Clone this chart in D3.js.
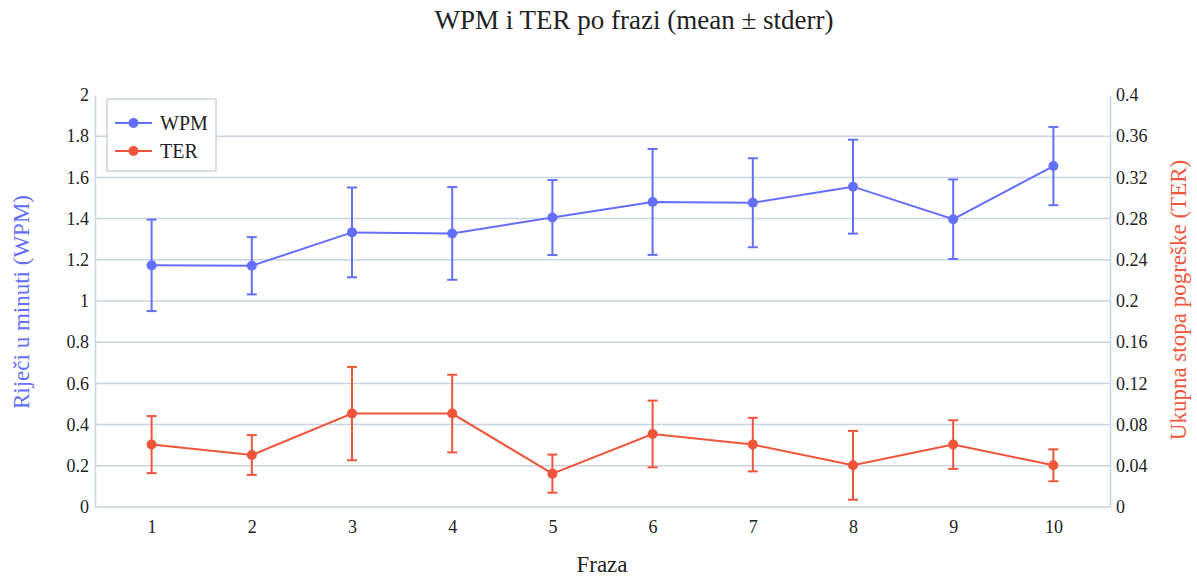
<!DOCTYPE html>
<html><head><meta charset="utf-8">
<script src="https://cdn.jsdelivr.net/npm/d3@7"></script>
<style>body{margin:0;background:#fff;} svg{display:block;font-family:"Liberation Serif","Times New Roman",serif;}</style>
</head><body>
<svg id="c" width="1197" height="577"></svg>
<script>
const categories = ["1","2","3","4","5","6","7","8","9","10"];
const wpmMean = [1.173, 1.171, 1.333, 1.328, 1.405, 1.481, 1.477, 1.555, 1.397, 1.655];
const wpmErr  = [0.222, 0.139, 0.218, 0.225, 0.182, 0.257, 0.216, 0.228, 0.193, 0.19];
const terMean = [0.0606, 0.0505, 0.0907, 0.0907, 0.0324, 0.0709, 0.0606, 0.0405, 0.0606, 0.0405];
const terErr  = [0.0277, 0.0193, 0.0453, 0.0377, 0.0185, 0.0324, 0.026, 0.0334, 0.0236, 0.0155];
const leftTicks = [0,0.2,0.4,0.6,0.8,1,1.2,1.4,1.6,1.8,2];
const rightTicks = [0,0.04,0.08,0.12,0.16,0.2,0.24,0.28,0.32,0.36,0.4];
const title = "WPM i TER po frazi (mean ± stderr)";
const xTitle = "Fraza";
const yLeftTitle = "Riječi u minuti (WPM)";
const yRightTitle = "Ukupna stopa pogreške (TER)";
const seriesNames = ["WPM","TER"];

const C_WPM = "#636efa", C_TER = "#ef553b", GRID = "#c8d4e3";
const FONT = "Liberation Serif, Times New Roman, serif";
const svg = d3.select("#c");
const L = 95, R = 1110, T = 95, B = 507;

const x = d3.scalePoint().domain(categories).range([L, R]).padding(0.565);
const yL = d3.scaleLinear().domain([0, 2]).range([B, T]);
const yR = d3.scaleLinear().domain([0, 0.4]).range([B, T]);

// grid
svg.append("g").selectAll("line").data(leftTicks.filter(d => d > 0 && d < 2)).join("line")
  .attr("x1", L).attr("x2", R).attr("y1", d => yL(d)).attr("y2", d => yL(d))
  .attr("stroke", GRID).attr("stroke-width", 1.5);

// axes
const axL = svg.append("g").attr("transform", `translate(${L},0)`)
  .call(d3.axisLeft(yL).tickValues(leftTicks).tickSize(0).tickPadding(6).tickFormat(d3.format("~g")));
const axR = svg.append("g").attr("transform", `translate(${R},0)`)
  .call(d3.axisRight(yR).tickValues(rightTicks).tickSize(0).tickPadding(6).tickFormat(d3.format("~g")));
const axB = svg.append("g").attr("transform", `translate(0,${B})`)
  .call(d3.axisBottom(x).tickSize(0).tickPadding(13));
[axL, axR, axB].forEach(a => {
  a.attr("font-family", FONT).attr("font-size", 18);
  a.select(".domain").attr("stroke", GRID).attr("stroke-width", 1.5);
  a.selectAll("text").attr("font-family", FONT).attr("font-size", 18).attr("fill", "#222");
});
axB.select(".domain").attr("d", `M${L},0H${R}`);

// error bars + lines
function series(mean, err, y, color) {
  const g = svg.append("g");
  const cap = 5;
  const eb = g.selectAll("g.eb").data(categories).join("g").attr("class", "eb");
  eb.append("line").attr("x1", d => x(d)).attr("x2", d => x(d))
    .attr("y1", (d, i) => y(mean[i] - err[i])).attr("y2", (d, i) => y(mean[i] + err[i]))
    .attr("stroke", color).attr("stroke-width", 2);
  eb.append("line").attr("x1", d => x(d) - cap).attr("x2", d => x(d) + cap)
    .attr("y1", (d, i) => y(mean[i] + err[i])).attr("y2", (d, i) => y(mean[i] + err[i]))
    .attr("stroke", color).attr("stroke-width", 2);
  eb.append("line").attr("x1", d => x(d) - cap).attr("x2", d => x(d) + cap)
    .attr("y1", (d, i) => y(mean[i] - err[i])).attr("y2", (d, i) => y(mean[i] - err[i]))
    .attr("stroke", color).attr("stroke-width", 2);
  g.append("path").datum(categories)
    .attr("d", d3.line().x(d => x(d)).y((d, i) => y(mean[i])))
    .attr("fill", "none").attr("stroke", color).attr("stroke-width", 2);
  g.selectAll("circle").data(categories).join("circle")
    .attr("cx", d => x(d)).attr("cy", (d, i) => y(mean[i])).attr("r", 5).attr("fill", color);
}
series(wpmMean, wpmErr, yL, C_WPM);
series(terMean, terErr, yR, C_TER);

// legend
const lg = svg.append("g");
lg.append("rect").attr("x", 107).attr("y", 99).attr("width", 109).attr("height", 72)
  .attr("fill", "#fff").attr("stroke", GRID).attr("stroke-width", 1.5);
[[C_WPM, seriesNames[0], 123], [C_TER, seriesNames[1], 151]].forEach(([c, t, yy]) => {
  lg.append("line").attr("x1", 115).attr("x2", 152).attr("y1", yy).attr("y2", yy).attr("stroke", c).attr("stroke-width", 2);
  lg.append("circle").attr("cx", 133.5).attr("cy", yy).attr("r", 5).attr("fill", c);
  lg.append("text").attr("x", 160).attr("y", yy).attr("dy", "0.35em").attr("font-family", FONT).attr("font-size", 20).attr("fill", "#222").text(t);
});

// titles
svg.append("text").attr("x", 634).attr("y", 29).attr("text-anchor", "middle").attr("font-family", FONT).attr("font-size", 27).attr("fill", "#222").text(title);
svg.append("text").attr("x", 602).attr("y", 572).attr("text-anchor", "middle").attr("font-family", FONT).attr("font-size", 23).attr("fill", "#222").text(xTitle);
svg.append("text").attr("transform", "translate(29,302) rotate(-90)").attr("text-anchor", "middle").attr("font-family", FONT).attr("font-size", 23).attr("fill", C_WPM).text(yLeftTitle);
svg.append("text").attr("transform", "translate(1186,300) rotate(-90)").attr("text-anchor", "middle").attr("font-family", FONT).attr("font-size", 23).attr("fill", C_TER).text(yRightTitle);
</script>
</body></html>
